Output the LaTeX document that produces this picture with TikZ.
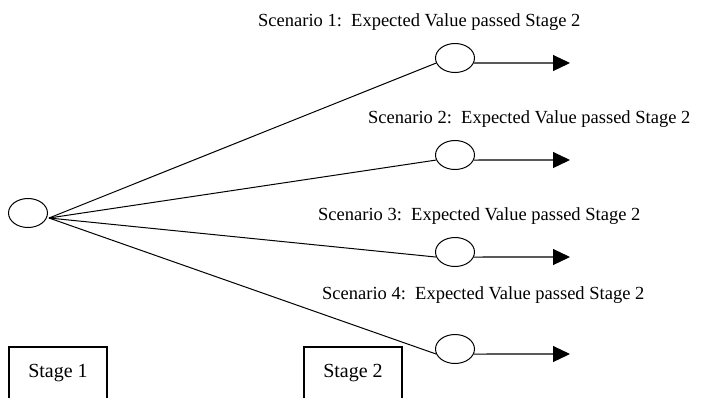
\documentclass[tikz,border=0pt]{standalone}
\usepackage{fontspec}
\setmainfont{Liberation Serif}
\usetikzlibrary{shapes.geometric,arrows.meta}
\begin{document}
\begin{tikzpicture}[x=1pt,y=-1pt,
  evnode/.style={draw,ellipse,line width=1pt,minimum width=39pt,minimum height=29pt,inner sep=0pt},
  edge/.style={line width=1pt},
  outarrow/.style={line width=1.1pt,-{Triangle[length=17pt,width=16pt]}},
  sclabel/.style={anchor=base west,inner sep=0pt,font=\fontsize{18.5}{22}\selectfont},
  stlabel/.style={anchor=base,inner sep=0pt,font=\fontsize{20}{24}\selectfont},
  stbox/.style={line width=1.2pt}]
\useasboundingbox (0,0) rectangle (708,397);
\node[evnode] (root) at (28,213) {};
\node[evnode] (e1) at (455,58) {};
\node[evnode] (e2) at (455,155) {};
\node[evnode] (e3) at (455,252) {};
\node[evnode] (e4) at (455,349) {};
\coordinate (hub) at (49,218);
\foreach \i/\y in {1/63,2/160,3/257,4/354}{
  \coordinate (t\i) at (570,\y);
  \draw[edge] (hub) -- (e\i.195);
  \draw[outarrow] (e\i.-15) -- (t\i);
}
\node[sclabel] (l1) at (258,26) {Scenario 1:\ \ Expected Value passed Stage 2};
\node[sclabel] (l2) at (368,123) {Scenario 2:\ \ Expected Value passed Stage 2};
\node[sclabel] (l3) at (318,220) {Scenario 3:\ \ Expected Value passed Stage 2};
\node[sclabel] (l4) at (322,299) {Scenario 4:\ \ Expected Value passed Stage 2};
\coordinate (b1a) at (9,402);
\coordinate (b1b) at (107,347);
\coordinate (b2a) at (304,402);
\coordinate (b2b) at (402,347);
\draw[stbox] (b1a) |- (b1b) -- (b1b |- b1a);
\draw[stbox] (b2a) |- (b2b) -- (b2b |- b2a);
\node[stlabel] (s1) at (58,377) {Stage 1};
\node[stlabel] (s2) at (353,377) {Stage 2};
\end{tikzpicture}
\end{document}
